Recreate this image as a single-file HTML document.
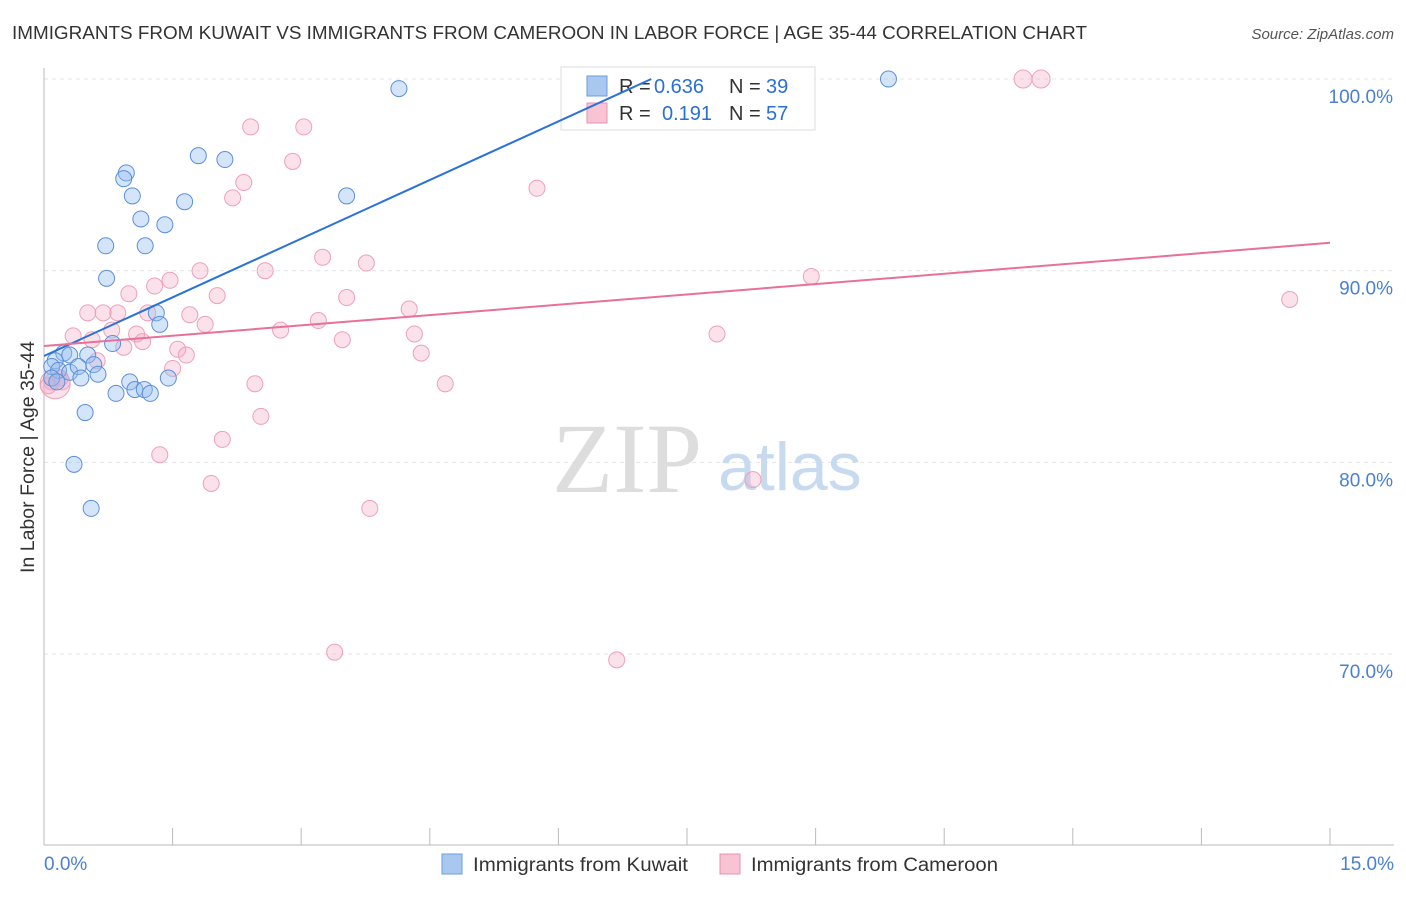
<!DOCTYPE html>
<html><head><meta charset="utf-8"><style>
body{margin:0;background:#fff;font-family:"Liberation Sans",sans-serif;}
svg text{font-family:"Liberation Sans",sans-serif;}
</style></head><body>
<svg id="c" width="1406" height="892" xmlns="http://www.w3.org/2000/svg">
<text x="12" y="39" font-size="18.5" fill="#333" textLength="1075" lengthAdjust="spacingAndGlyphs">IMMIGRANTS FROM KUWAIT VS IMMIGRANTS FROM CAMEROON IN LABOR FORCE | AGE 35-44 CORRELATION CHART</text>
<text x="1394" y="39" font-size="15" fill="#555" font-style="italic" text-anchor="end">Source: ZipAtlas.com</text>
<g id="grid"></g>
<line x1="44" y1="68" x2="44" y2="845" stroke="#bbb"/>
<line x1="44" y1="845" x2="1394" y2="845" stroke="#bbb"/>
<g id="xt"></g>
<text x="552" y="492" font-size="100" fill="#ddd" style="font-family:'Liberation Serif',serif">ZIP</text>
<text x="718" y="490" font-size="68" fill="#c8daf0">atlas</text>
<g>
<rect x="561" y="67" width="254" height="63" fill="#fff" stroke="#ddd"/>
<rect x="587" y="76" width="20" height="20" fill="#a9c8f0" stroke="#6a9be0"/>
<rect x="587" y="103" width="20" height="20" fill="#f8c4d4" stroke="#e890ae"/>
<text x="619" y="93" font-size="20" fill="#333">R =</text>
<text x="654" y="93" font-size="20" fill="#2a6fd6">0.636</text>
<text x="729" y="93" font-size="20" fill="#333">N =</text>
<text x="766" y="93" font-size="20" fill="#2a6fd6">39</text>
<text x="619" y="120" font-size="20" fill="#333">R =</text>
<text x="662" y="120" font-size="20" fill="#2a6fd6">0.191</text>
<text x="729" y="120" font-size="20" fill="#333">N =</text>
<text x="766" y="120" font-size="20" fill="#2a6fd6">57</text>
</g>
<g id="pts"></g>
<g id="trend"></g>
<text transform="translate(34,457) rotate(-90)" font-size="19" fill="#333" text-anchor="middle" textLength="232" lengthAdjust="spacingAndGlyphs">In Labor Force | Age 35-44</text>
<text x="44" y="870" font-size="19" fill="#4a7fd4">0.0%</text>
<text x="1394" y="870" font-size="19" fill="#4a7fd4" text-anchor="end">15.0%</text>
<g id="yl"></g>
<g>
<rect x="442" y="854" width="20" height="20" fill="#a9c8f0" stroke="#6a9be0"/>
<text x="473" y="871" font-size="19" fill="#333" textLength="215" lengthAdjust="spacingAndGlyphs">Immigrants from Kuwait</text>
<rect x="720" y="854" width="20" height="20" fill="#f8c4d4" stroke="#e890ae"/>
<text x="751" y="871" font-size="19" fill="#333" textLength="247" lengthAdjust="spacingAndGlyphs">Immigrants from Cameroon</text>
</g>
</svg>
<script>
const yTicks=[100,90,80,70];
const yTickLabels=["100.0%","90.0%","80.0%","70.0%"];
const blueX=[4.14,9.85,1.80,2.11,0.96,0.93,1.03,1.64,3.53,1.13,1.41,0.72,1.18,0.73,1.31,1.35,0.80,0.23,0.30,0.51,0.58,0.13,0.09,0.17,0.30,0.40,0.63,0.43,1.45,1.00,0.09,0.15,1.06,0.84,1.17,1.24,0.48,0.35,0.55];
const blueY=[99.5,100,96.0,95.8,95.1,94.8,93.9,93.6,93.9,92.7,92.4,91.3,91.3,89.6,87.8,87.2,86.2,85.7,85.6,85.6,85.1,85.3,85.0,84.8,84.7,85.0,84.6,84.4,84.4,84.2,84.4,84.2,83.8,83.6,83.8,83.6,82.6,79.9,77.6];
const pinkX=[11.42,11.63,2.41,3.03,2.90,2.33,2.20,5.75,3.25,3.76,2.58,1.82,1.47,1.29,0.99,2.02,3.53,8.95,14.53,0.51,0.69,0.86,1.21,1.70,3.20,4.26,1.88,0.79,0.34,1.08,2.76,4.32,7.85,0.56,1.15,0.93,3.48,1.56,1.66,4.40,0.62,1.50,0.19,0.09,2.46,4.68,2.53,2.08,1.35,1.95,8.27,3.80,3.39,6.68,0.21,0.05,0.13];
const pinkY=[100,100,97.5,97.5,95.7,94.6,93.8,94.3,90.7,90.4,90.0,90.0,89.5,89.2,88.8,88.7,88.6,89.7,88.5,87.8,87.8,87.8,87.8,87.7,87.4,88.0,87.2,86.9,86.6,86.7,86.9,86.7,86.7,86.4,86.3,86.0,86.4,85.9,85.6,85.7,85.3,84.9,84.4,84.2,84.1,84.1,82.4,81.2,80.4,78.9,79.1,77.6,70.1,69.7,84.2,84.0,84.1];
const pinkR=[9,9,8,8,8,8,8,8,8,8,8,8,8,8,8,8,8,8,8,8,8,8,8,8,8,8,8,8,8,8,8,8,8,8,8,8,8,8,8,8,8,8,8,8,8,8,8,8,8,8,8,8,8,8,8,8,15];
const trendBlue=[85.55,2.04];
const trendPink=[86.07,0.359];
const xMax=15;
const X=v=>44+v/xMax*1286, Y=v=>79+(100-v)*19.17;
const NS="http://www.w3.org/2000/svg";
function mk(t,a,p){const e=document.createElementNS(NS,t);for(const k in a)e.setAttribute(k,a[k]);document.getElementById(p).appendChild(e);return e;}
yTicks.forEach((t,i)=>{
 const l=mk('line',{x1:44,x2:1394,y1:Y(t),y2:Y(t),stroke:'#e4e4e4','stroke-dasharray':'4,4'},'grid');
 
 
 const tx=mk('text',{x:1393,y:Y(t)+24,'font-size':19,fill:'#4a7fd4','text-anchor':'end'},'yl');
 tx.textContent=yTickLabels[i];
 
 
});
for(let i=1;i<=10;i++){const x=44+i*128.6;
 const l=mk('line',{x1:x,x2:x,y1:828,y2:845,stroke:'#bbb'},'xt');
 
 }
pinkX.forEach((v,i)=>{
 const c=mk('circle',{cx:X(v),cy:Y(pinkY[i]),r:pinkR[i],fill:'rgba(244,170,195,0.35)',stroke:'#eea0ba','stroke-width':1},'pts');
 
 
});
blueX.forEach((v,i)=>{
 const c=mk('circle',{cx:X(v),cy:Y(blueY[i]),r:8,fill:'rgba(150,190,240,0.4)',stroke:'#5b8fdc','stroke-width':1},'pts');
 
 
});
const bx2=(100-trendBlue[0])/trendBlue[1];
const lb=mk('line',{x1:X(0),y1:Y(trendBlue[0]),x2:X(bx2),y2:Y(100),stroke:'#2a72d8','stroke-width':2},'trend');


const lp=mk('line',{x1:X(0),y1:Y(trendPink[0]),x2:X(15),y2:Y(trendPink[0]+15*trendPink[1]),stroke:'#e8709a','stroke-width':2},'trend');


</script>
</body></html>
